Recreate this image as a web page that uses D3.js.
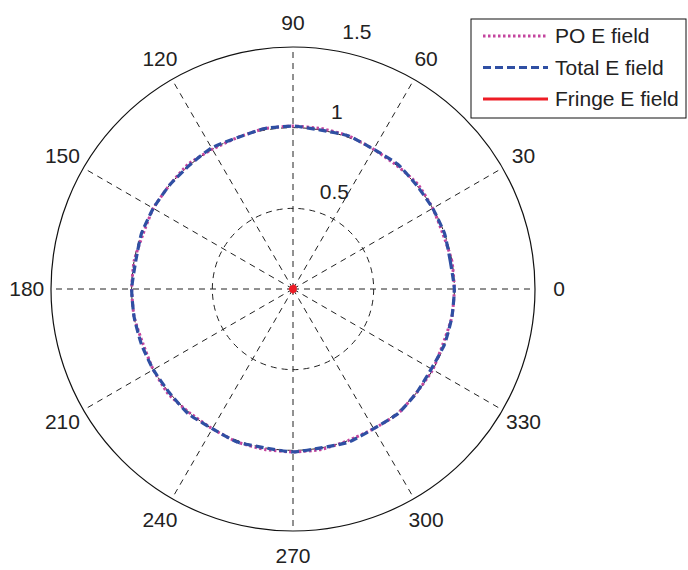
<!DOCTYPE html>
<html>
<head>
<meta charset="utf-8">
<script src="https://cdn.jsdelivr.net/npm/d3@7"></script>
<style>
  body { margin: 0; background: #fff; }
  text { font-family: "Liberation Sans", Arial, sans-serif; fill: #222; }
</style>
</head>
<body>
<div id="polar"></div>
<script>
// angles in degrees, one value every 10 degrees (0..360)
var angles = d3.range(0, 361, 10);
var poField = [1.00, 1.00, 0.99, 1.00, 1.01, 1.00, 1.00, 1.01, 1.01, 1.01, 1.01, 1.00, 1.00, 1.01, 1.00, 1.00, 0.99, 1.00,
               1.00, 1.00, 0.99, 1.00, 1.01, 1.00, 1.00, 1.01, 1.01, 1.01, 1.01, 1.00, 1.00, 1.01, 1.00, 1.00, 0.99, 1.00, 1.00];
var totalField = [1.00, 0.99, 1.00, 1.00, 1.00, 1.01, 1.00, 1.01, 1.00, 1.01, 1.01, 1.00, 1.01, 1.00, 1.00, 1.00, 1.00, 0.99,
                  1.00, 1.00, 1.00, 1.00, 1.00, 1.01, 1.00, 1.01, 1.00, 1.01, 1.00, 1.01, 1.00, 1.01, 1.00, 0.99, 1.00, 1.00, 1.00];
var fringeField = [0.015, 0.010, 0.008, 0.012, 0.018, 0.014, 0.010, 0.016, 0.020, 0.015, 0.011, 0.009, 0.013, 0.017, 0.012, 0.010, 0.008, 0.014,
                   0.018, 0.015, 0.010, 0.008, 0.012, 0.016, 0.014, 0.010, 0.016, 0.020, 0.015, 0.011, 0.009, 0.013, 0.017, 0.012, 0.010, 0.008, 0.015];
var ringTicks = [0.5, 1, 1.5];
var spokeAngles = d3.range(0, 360, 30);
var seriesNames = ["PO E field", "Total E field", "Fringe E field"];

var width = 688, height = 570;
var cx = 293, cy = 289, rmax = 242;

var svg = d3.select("#polar").append("svg")
            .attr("width", width)
            .attr("height", height);

var r = d3.scaleLinear().domain([0, 1.5]).range([0, rmax]);
var ang = function(a) { return a * Math.PI / 180; };
var px = function(a, v) { return cx + r(v) * Math.cos(ang(a)); };
var py = function(a, v) { return cy - r(v) * Math.sin(ang(a)); };

var chart = svg.append("g");

// inner dashed rings
chart.selectAll("circle.ring")
     .data(ringTicks.slice(0, -1))
     .enter()
     .append("circle")
     .attr("class", "ring")
     .attr("cx", cx).attr("cy", cy)
     .attr("r", function(d) { return r(d); })
     .attr("fill", "none")
     .attr("stroke", "#222")
     .attr("stroke-width", 1)
     .attr("stroke-dasharray", "6,5");

// spokes
chart.selectAll("line.spoke")
     .data(spokeAngles)
     .enter()
     .append("line")
     .attr("class", "spoke")
     .attr("x1", cx).attr("y1", cy)
     .attr("x2", function(d) { return px(d, 1.5); })
     .attr("y2", function(d) { return py(d, 1.5); })
     .attr("stroke", "#222")
     .attr("stroke-width", 1)
     .attr("stroke-dasharray", "6,5");

// outer circle
chart.append("circle")
     .attr("cx", cx).attr("cy", cy)
     .attr("r", r(1.5))
     .attr("fill", "none")
     .attr("stroke", "#111")
     .attr("stroke-width", 1.2);

// angle labels
chart.selectAll("text.ang")
     .data(spokeAngles)
     .enter()
     .append("text")
     .attr("class", "ang")
     .attr("x", function(d) { return px(d, 1.65); })
     .attr("y", function(d) { return py(d, 1.65); })
     .attr("dy", "0.35em")
     .style("font-size", "21px")
     .style("text-anchor", "middle")
     .text(function(d) { return d; });

// ring labels at 82 degrees
chart.selectAll("text.rlab")
     .data(ringTicks)
     .enter()
     .append("text")
     .attr("class", "rlab")
     .attr("x", function(d) { return px(82, d + 0.025) + 15; })
     .attr("y", function(d) { return py(82, d + 0.025) - 6; })
     .style("font-size", "21px")
     .text(function(d) { return d; });

var line = d3.line()
             .x(function(d) { return px(d[0], d[1]); })
             .y(function(d) { return py(d[0], d[1]); })
             .curve(d3.curveCardinalClosed.tension(0.5));

var zip = function(vals) { return angles.slice(0, -1).map(function(a, i) { return [a, vals[i]]; }); };

var styles = [
  {color: "#c4449e", width: 3, dash: "2.5,2.5"},
  {color: "#2f4fa3", width: 3.2, dash: "8,4"},
  {color: "#ee1c25", width: 3, dash: null}
];
var series = [poField, totalField, fringeField];

series.forEach(function(s, i) {
  chart.append("path")
       .datum(zip(s))
       .attr("d", line)
       .attr("fill", "none")
       .attr("stroke", styles[i].color)
       .attr("stroke-width", styles[i].width)
       .attr("stroke-dasharray", styles[i].dash);
});

// legend
var legend = svg.append("g").attr("transform", "translate(471,19)");
legend.append("rect")
      .attr("width", 215).attr("height", 99)
      .attr("fill", "#fff")
      .attr("stroke", "#111")
      .attr("stroke-width", 1);
seriesNames.forEach(function(name, i) {
  var yy = 17 + i * 31.5;
  legend.append("line")
        .attr("x1", 12).attr("x2", 77)
        .attr("y1", yy).attr("y2", yy)
        .attr("stroke", styles[i].color)
        .attr("stroke-width", styles[i].width)
        .attr("stroke-dasharray", styles[i].dash);
  legend.append("text")
        .attr("x", 84).attr("y", yy)
        .attr("dy", "0.35em")
        .style("font-size", "21px")
        .text(name);
});
</script>
</body>
</html>
